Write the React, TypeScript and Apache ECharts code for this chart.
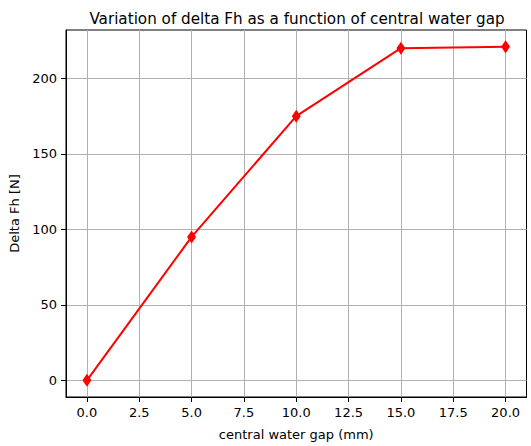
import React, { useEffect, useRef } from "react";
import * as echarts from "echarts";

// Measured delta Fh for each central water gap setting
const gapMm = [0, 5, 10, 15, 20];
const deltaFh = [0, 95, 175, 220, 221];

// Tick positions shown on each axis
const xTicks = [0, 2.5, 5, 7.5, 10, 12.5, 15, 17.5, 20];
const yTicks = [0, 50, 100, 150, 200];

const FONT = "DejaVu Sans";

export default function App() {
  const ref = useRef<HTMLDivElement>(null);

  useEffect(() => {
    if (!ref.current) return;
    document.body.style.margin = "0";
    const chart = echarts.init(ref.current, undefined, { renderer: "svg" });

    const yMaxData = Math.max(...deltaFh);
    const yMinData = Math.min(...deltaFh);
    const yPad = (yMaxData - yMinData) * 0.05;
    const xPad = (Math.max(...gapMm) - Math.min(...gapMm)) * 0.05;

    chart.setOption({
      animation: false,
      backgroundColor: "#fff",
      title: {
        text: "Variation of delta Fh as a function of central water gap",
        left: 292,
        top: 6,
        textAlign: "center",
        textStyle: { fontFamily: FONT, fontSize: 15.2, fontWeight: "normal", color: "#000" },
      },
      grid: {
        left: 66,
        right: 4.5,
        top: 30,
        bottom: 45,
        show: true,
        borderColor: "#000",
        borderWidth: 1,
        backgroundColor: "transparent",
      },
      xAxis: {
        type: "value",
        min: Math.min(...gapMm) - xPad,
        max: Math.max(...gapMm) + xPad,
        name: "central water gap (mm)",
        nameLocation: "middle",
        nameGap: 31,
        nameTextStyle: { fontFamily: FONT, fontSize: 13, color: "#000" },
        axisLine: { show: true, onZero: false, lineStyle: { color: "#000", width: 1 } },
        axisTick: { show: true, length: 5, customValues: xTicks, lineStyle: { color: "#000" } },
        axisLabel: {
          customValues: xTicks,
          margin: 9,
          fontFamily: FONT,
          fontSize: 13,
          color: "#000",
          formatter: (v: number) => v.toFixed(1),
        },
        splitLine: { show: true, customValues: xTicks, lineStyle: { color: "#b0b0b0", width: 1 } },
      },
      yAxis: {
        type: "value",
        min: yMinData - yPad,
        max: yMaxData + yPad,
        name: "Delta Fh [N]",
        nameLocation: "middle",
        nameGap: 38,
        nameTextStyle: { fontFamily: FONT, fontSize: 13, color: "#000" },
        axisLine: { show: true, onZero: false, lineStyle: { color: "#000", width: 1 } },
        axisTick: { show: true, length: 5, customValues: yTicks, lineStyle: { color: "#000" } },
        axisLabel: {
          customValues: yTicks,
          margin: 9,
          fontFamily: FONT,
          fontSize: 13,
          color: "#000",
        },
        splitLine: { show: true, customValues: yTicks, lineStyle: { color: "#b0b0b0", width: 1 } },
      },
      series: [
        {
          type: "line",
          data: gapMm.map((g, i) => [g, deltaFh[i]]),
          lineStyle: { color: "#ff0000", width: 2 },
          itemStyle: { color: "#ff0000" },
          symbol: "diamond",
          symbolSize: [9, 13],
          showAllSymbol: true,
        },
      ],
    });

    return () => chart.dispose();
  }, []);

  return <div ref={ref} style={{ width: 531, height: 446 }} />;
}
